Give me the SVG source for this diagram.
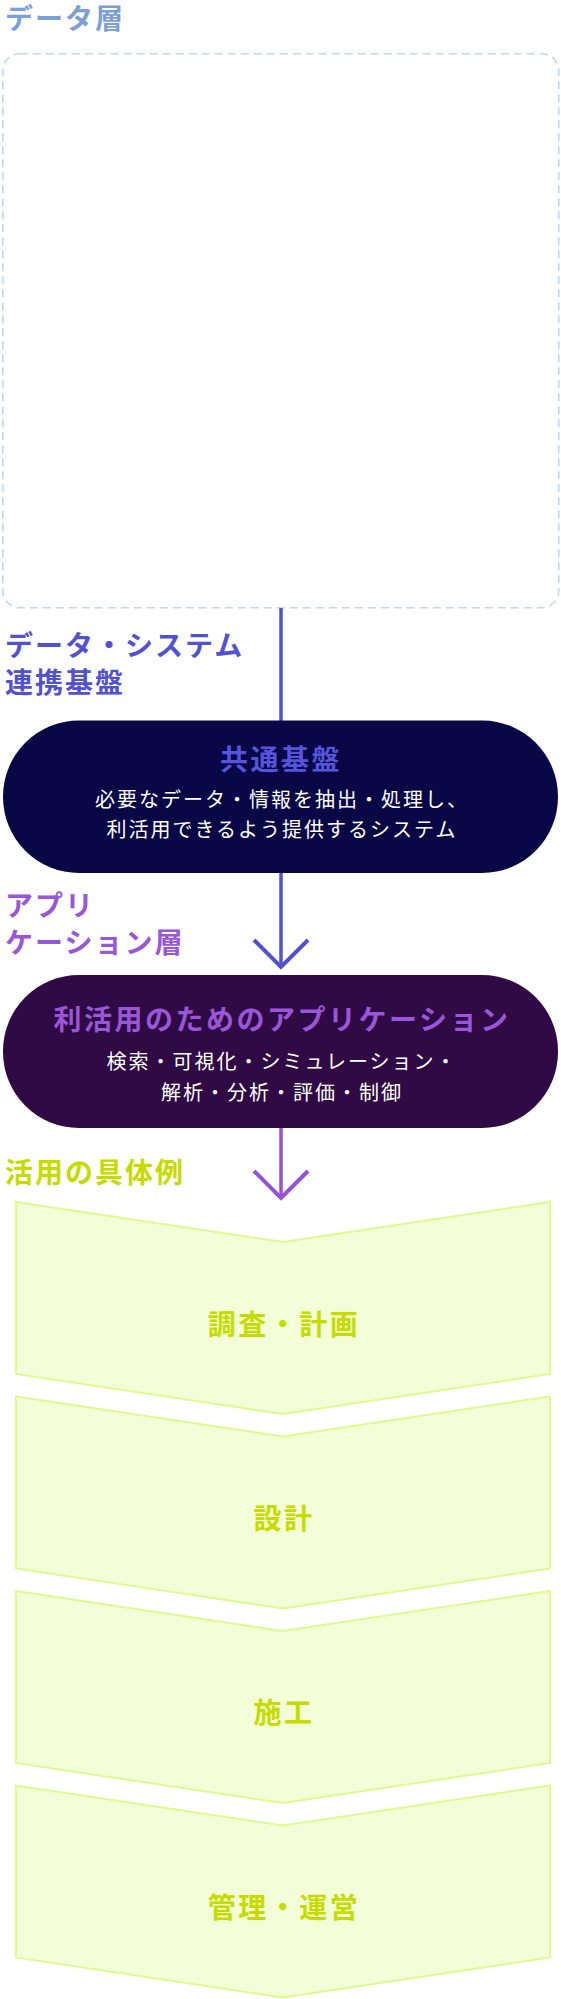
<svg xmlns="http://www.w3.org/2000/svg" width="561" height="1999" viewBox="0 0 561 1999">
  <defs>
    <style>
      text { font-family: "Noto Sans CJK JP", "Noto Sans", sans-serif; }
      .lbl { font-size: 28px; font-weight: 700; letter-spacing: 2px; }
      .ttl { font-size: 28px; font-weight: 700; letter-spacing: 2.5px; text-anchor: middle; }
      .body { font-size: 20px; font-weight: 400; letter-spacing: 2px; fill: #ffffff; text-anchor: middle; }
      .chev { fill: #f3fdd7; stroke: #e0fa8e; stroke-width: 2; }
      .chevtxt { font-size: 28px; font-weight: 700; letter-spacing: 2.5px; fill: #c5dc00; text-anchor: middle; }
    </style>
    <marker id="headBlue" markerUnits="userSpaceOnUse" viewBox="-32 -32 36 64" markerWidth="36" markerHeight="64" refX="0" refY="0" orient="auto">
      <path d="M-27,-27 L0,0 L-27,27" fill="none" stroke="#5251d3" stroke-width="4"/>
    </marker>
    <marker id="headPurple" markerUnits="userSpaceOnUse" viewBox="-32 -32 36 64" markerWidth="36" markerHeight="64" refX="0" refY="0" orient="auto">
      <path d="M-27,-27 L0,0 L-27,27" fill="none" stroke="#9452d6" stroke-width="4"/>
    </marker>
  </defs>

  <g id="data-layer">
    <text class="lbl" x="5" y="29" fill="#7ba0d6">データ層</text>
    <rect x="2.75" y="53.75" width="556" height="554" rx="17" fill="#ffffff" stroke="#c4d5ec" stroke-width="1.6" stroke-dasharray="8 5"/>
  </g>

  <g id="connectors">
    <line x1="281" y1="608" x2="281" y2="721" stroke="#5251d3" stroke-width="3.5"/>
    <line x1="281" y1="873" x2="281" y2="967" stroke="#5251d3" stroke-width="3.5" marker-end="url(#headBlue)"/>
    <line x1="281" y1="1128" x2="281" y2="1198" stroke="#9452d6" stroke-width="3.5" marker-end="url(#headPurple)"/>
  </g>

  <g id="label-renkei">
    <text class="lbl" x="5" y="656" fill="#5251d3">データ・システム</text>
    <text class="lbl" x="5" y="693" fill="#5251d3">連携基盤</text>
  </g>

  <g id="node-kyotsu">
    <rect x="3" y="720.5" width="555" height="152.5" rx="76" fill="#090746"/>
    <text class="ttl" x="281" y="770" fill="#5654da">共通基盤</text>
    <text class="body" x="282" y="807">必要なデータ・情報を抽出・処理し、</text>
    <text class="body" x="282" y="837">利活用できるよう提供するシステム</text>
  </g>

  <g id="label-app">
    <text class="lbl" x="5" y="916" fill="#9a56d8">アプリ</text>
    <text class="lbl" x="5" y="953" fill="#9a56d8">ケーション層</text>
  </g>

  <g id="node-app">
    <rect x="3" y="975" width="555" height="153" rx="76" fill="#300a44"/>
    <text class="ttl" x="282" y="1030" fill="#9a56d8">利活用のためのアプリケーション</text>
    <text class="body" x="282" y="1069">検索・可視化・シミュレーション・</text>
    <text class="body" x="282" y="1100">解析・分析・評価・制御</text>
  </g>

  <g id="label-examples">
    <text class="lbl" x="5" y="1183" fill="#c5dc00">活用の具体例</text>
  </g>

  <g id="chevron-chosa">
    <polygon class="chev" points="16,1202 283,1242 550,1202 550,1374 283,1414 16,1374"/>
    <text class="chevtxt" x="284" y="1335">調査・計画</text>
  </g>
  <g id="chevron-sekkei">
    <polygon class="chev" points="16,1396.5 283,1436.5 550,1396.5 550,1568.5 283,1608.5 16,1568.5"/>
    <text class="chevtxt" x="284" y="1529">設計</text>
  </g>
  <g id="chevron-seko">
    <polygon class="chev" points="16,1591 283,1631 550,1591 550,1763 283,1803 16,1763"/>
    <text class="chevtxt" x="284" y="1723">施工</text>
  </g>
  <g id="chevron-kanri">
    <polygon class="chev" points="16,1785.5 283,1825.5 550,1785.5 550,1957.5 283,1997.5 16,1957.5"/>
    <text class="chevtxt" x="284" y="1918">管理・運営</text>
  </g>
</svg>
